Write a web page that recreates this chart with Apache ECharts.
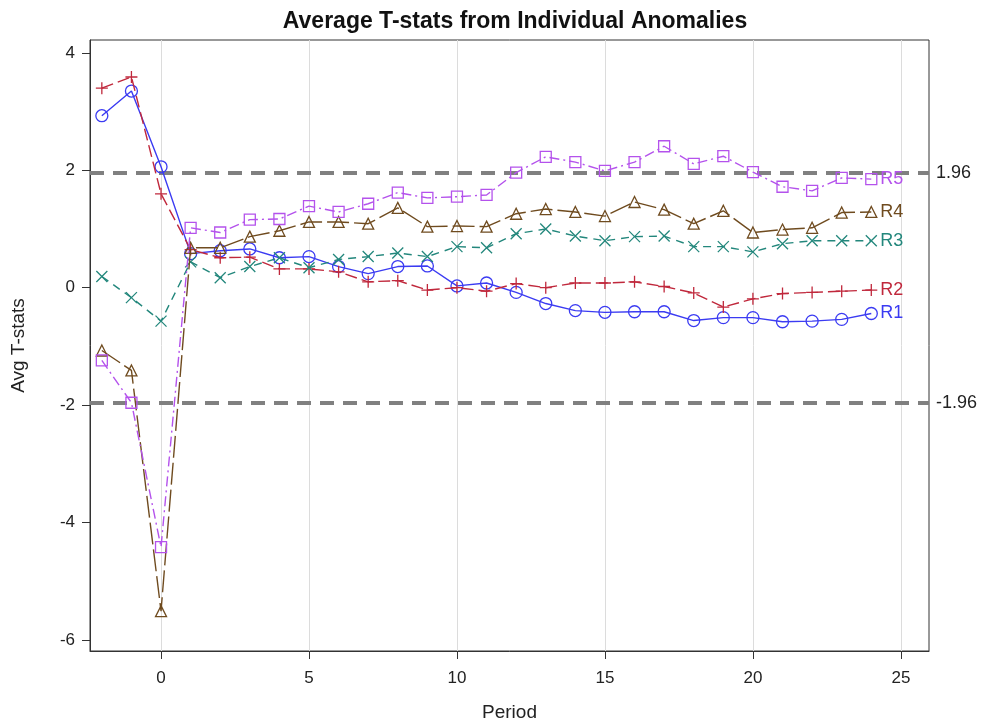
<!DOCTYPE html>
<html>
<head>
<meta charset="utf-8">
<script src="https://cdn.jsdelivr.net/npm/echarts@6/dist/echarts.min.js"></script>
<style>html,body{margin:0;padding:0;background:#fff;}#c{width:983px;height:727px;}</style>
</head>
<body>
<div id="c"></div>
<script>
const periods = [-2,-1,0,1,2,3,4,5,6,7,8,9,10,11,12,13,14,15,16,17,18,19,20,21,22,23,24];
const r1 = [2.93,3.35,2.06,0.58,0.63,0.66,0.51,0.53,0.36,0.24,0.36,0.37,0.03,0.08,-0.08,-0.27,-0.39,-0.42,-0.41,-0.41,-0.56,-0.51,-0.51,-0.58,-0.57,-0.54,-0.44];
const r2 = [3.40,3.59,1.60,0.65,0.51,0.52,0.32,0.32,0.27,0.10,0.12,-0.04,0.00,-0.06,0.07,0.00,0.08,0.08,0.10,0.02,-0.09,-0.33,-0.19,-0.10,-0.08,-0.06,-0.04];
const r3 = [0.19,-0.17,-0.57,0.44,0.17,0.36,0.51,0.34,0.48,0.53,0.59,0.53,0.70,0.68,0.92,1.00,0.88,0.80,0.87,0.88,0.70,0.70,0.61,0.75,0.80,0.80,0.80];
const r4 = [-1.07,-1.41,-5.51,0.68,0.68,0.87,0.97,1.12,1.12,1.09,1.36,1.04,1.05,1.04,1.26,1.34,1.29,1.22,1.46,1.33,1.09,1.31,0.94,0.99,1.02,1.28,1.29];
const r5 = [-1.24,-1.96,-4.42,1.02,0.94,1.16,1.17,1.39,1.29,1.43,1.62,1.53,1.55,1.58,1.96,2.23,2.14,1.99,2.14,2.41,2.11,2.24,1.97,1.72,1.65,1.87,1.85];
const seriesNames = ['R1','R2','R3','R4','R5'];
const xTicks = [0,5,10,15,20,25];
const yTicks = [-6,-4,-2,0,2,4];
const refLines = [1.96,-1.96];

const colors = ['#3b3bf2','#c0283c','#23877c','#6f4b1f','#b452ec'];
const symbols = ['circle','path://M5,0 L5,10 M0,5 L10,5','path://M0,0 L10,10 M10,0 L0,10','triangle','rect'];
const symSizes = [12,12,11,11,11];
const dashes = ['solid',[12,5],[8,6],[22,5],[10,4,2,4]];
const allData = [r1,r2,r3,r4,r5];
const FONT = '"Liberation Sans", Arial, sans-serif';

const series = allData.map((d,i)=>({
  name: seriesNames[i],
  type:'line',
  data: periods.map((p,j)=>[p,d[j]]),
  symbol: symbols[i],
  symbolSize: symSizes[i],
  showAllSymbol:true,
  z: 3+i,
  lineStyle:{color:colors[i], width:1.4, type:dashes[i]},
  itemStyle:{color:'rgba(255,255,255,0)', borderColor:colors[i], borderWidth:1.3},
  emphasis:{disabled:true},
  endLabel:{show:true, formatter:seriesNames[i], color:colors[i], fontSize:18, fontFamily:FONT, distance:9}
}));
series[0].markLine = {
  silent:true, symbol:['none','none'], z:2,
  lineStyle:{color:'#808080', width:4, type:[14,9]},
  label:{position:'end', formatter:(p)=>String(p.value), color:'#222', fontSize:18, fontFamily:FONT, distance:7},
  data: refLines.map(v=>({yAxis:v}))
};

const chart = echarts.init(document.getElementById('c'), null, {renderer:'canvas'});
chart.setOption({
  animation:false,
  backgroundColor:'#fff',
  title:{text:'Average T-stats from Individual Anomalies', left:510, textAlign:'center', top:5,
    textStyle:{fontFamily:FONT, fontWeight:'bold', fontSize:23, color:'#111'}},
  grid:{left:90, right:54, top:40, bottom:75, show:true, borderColor:'#333', borderWidth:1},
  xAxis:{type:'value', min:-2.4, max:25.95,
    name:'Period', nameLocation:'middle', nameGap:52,
    nameTextStyle:{fontFamily:FONT, fontSize:19, color:'#222'},
    axisLine:{show:true, onZero:false, lineStyle:{color:'#333'}},
    axisTick:{show:true, length:8, customValues:xTicks, lineStyle:{color:'#333'}},
    axisLabel:{customValues:xTicks, fontFamily:FONT, fontSize:17, color:'#222', margin:19},
    splitLine:{show:true, customValues:xTicks, lineStyle:{color:'#dcdcdc', width:1}}},
  yAxis:{type:'value', min:-6.19, max:4.22,
    name:'Avg T-stats', nameLocation:'middle', nameGap:62,
    nameTextStyle:{fontFamily:FONT, fontSize:19, color:'#222'},
    axisLine:{show:true, onZero:false, lineStyle:{color:'#333'}},
    axisTick:{show:true, length:8, customValues:yTicks, lineStyle:{color:'#333'}},
    axisLabel:{customValues:yTicks, fontFamily:FONT, fontSize:17, color:'#222', margin:15},
    splitLine:{show:false}},
  series: series
});
</script>
</body>
</html>
